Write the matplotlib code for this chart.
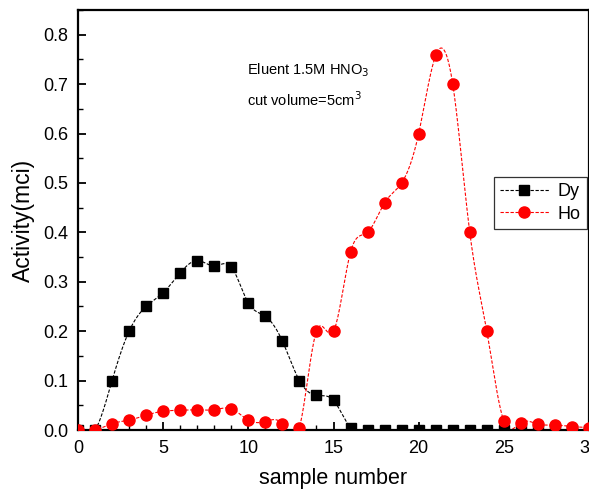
import matplotlib
matplotlib.use('Agg')
import matplotlib.pyplot as plt
import numpy as np

plt.rcParams['font.family'] = ['Liberation Sans', 'DejaVu Sans']

# Datos
sample = list(range(0, 31))
dy = [0, 0, 0.10, 0.20, 0.25, 0.278, 0.318, 0.343, 0.332, 0.330,
      0.257, 0.230, 0.180, 0.100, 0.070, 0.060, 0.005, 0, 0, 0,
      0, 0, 0, 0, 0, 0, 0, 0, 0, 0, 0]
ho = [0, 0, 0.013, 0.020, 0.030, 0.038, 0.040, 0.041, 0.041, 0.043,
      0.020, 0.017, 0.012, 0.005, 0.200, 0.200, 0.360, 0.400, 0.460, 0.500,
      0.600, 0.758, 0.700, 0.400, 0.200, 0.018, 0.015, 0.012, 0.010, 0.007, 0.005]


def spline_curve(x, y, per_seg=20):
    # spline cúbica natural, sólo para dibujar la línea de unión (como Origin)
    x = np.asarray(x, float)
    y = np.asarray(y, float)
    n = len(x)
    h = np.diff(x)
    A = np.zeros((n, n))
    b = np.zeros(n)
    A[0, 0] = A[-1, -1] = 1
    for i in range(1, n - 1):
        A[i, i - 1] = h[i - 1]
        A[i, i] = 2 * (h[i - 1] + h[i])
        A[i, i + 1] = h[i]
        b[i] = 6 * ((y[i + 1] - y[i]) / h[i] - (y[i] - y[i - 1]) / h[i - 1])
    M = np.linalg.solve(A, b)
    xs, ys = [], []
    for i in range(n - 1):
        t = np.linspace(x[i], x[i + 1], per_seg, endpoint=False)
        a = x[i + 1] - t
        c = t - x[i]
        s = (M[i] * a ** 3 + M[i + 1] * c ** 3) / (6 * h[i]) \
            + (y[i] / h[i] - M[i] * h[i] / 6) * a \
            + (y[i + 1] / h[i] - M[i + 1] * h[i] / 6) * c
        xs.extend(t)
        ys.extend(s)
    xs.append(x[-1])
    ys.append(y[-1])
    return np.array(xs), np.array(ys)


fig = plt.figure(figsize=(5.89, 4.90), dpi=100)
ax = fig.add_axes([78 / 589, 60 / 490, 511 / 589, 420 / 490])

dash = (0, (3, 1.5))
sx, sy = spline_curve(sample, dy)
ax.plot(sx, sy, color='black', lw=0.8, ls=dash, zorder=2)
sx, sy = spline_curve(sample, ho)
ax.plot(sx, sy, color='red', lw=0.8, ls=dash, zorder=2)

ax.plot(sample, dy, ls='none', marker='s', ms=7, mfc='black', mec='black', zorder=3)
ax.plot(sample, ho, ls='none', marker='o', ms=8, mfc='red', mec='red', zorder=4)

# entradas de la leyenda
ax.plot([], [], color='black', lw=0.8, ls=dash, marker='s', ms=7, label='Dy')
ax.plot([], [], color='red', lw=0.8, ls=dash, marker='o', ms=8, label='Ho')

ax.set_xlim(0, 30)
ax.set_ylim(0, 0.85)
ax.set_xticks([0, 5, 10, 15, 20, 25, 30])
ax.set_xticks(range(0, 31), minor=True)
ax.set_yticks(np.arange(0, 0.81, 0.1))
ax.set_yticks(np.arange(0, 0.851, 0.05), minor=True)
ax.yaxis.set_major_formatter(plt.FormatStrFormatter('%.1f'))

ax.tick_params(which='major', direction='in', length=6, width=1.3, labelsize=13, pad=7)
ax.tick_params(which='minor', direction='in', length=3.5, width=1.0)
for s in ax.spines.values():
    s.set_linewidth(1.6)

ax.set_xlabel('sample number', fontsize=15.5, labelpad=8)
ax.set_ylabel('Activity(mci)', fontsize=16.5, labelpad=6)

ax.text(9.95, 0.729, 'Eluent 1.5M HNO$_3$', fontsize=10.5, va='center')
ax.text(9.95, 0.668, 'cut volume=5cm$^3$', fontsize=10.5, va='center')

leg = ax.legend(loc='upper left', bbox_to_anchor=(24.4 / 30, 0.512 / 0.85),
                fontsize=13, frameon=True, fancybox=False, edgecolor='black',
                handlelength=2.7, borderpad=0.35, labelspacing=0.3,
                handletextpad=0.5, borderaxespad=0)
leg.get_frame().set_linewidth(0.9)

fig.savefig('out.png', dpi=100)
